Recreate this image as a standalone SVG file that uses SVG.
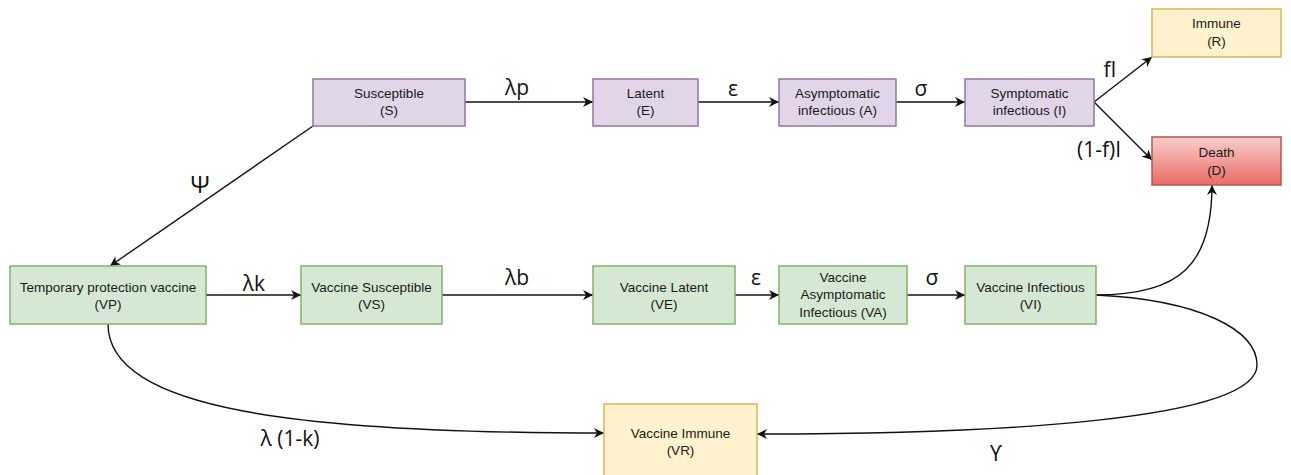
<svg xmlns="http://www.w3.org/2000/svg" width="1291" height="475" viewBox="0 0 1291 475">
<style>
  .box { stroke-width: 1.5; }
  .p { fill: #e1d5e7; stroke: #9673a6; }
  .g { fill: #d5e8d4; stroke: #82b366; }
  .y { fill: #fff2cc; stroke: #d6b656; }
  .r { fill: url(#redgrad); stroke: #b85450; }
  .t { font-family: "Liberation Sans", Arial, sans-serif; font-size: 13.5px; fill: #1a1a1a; text-anchor: middle; }
  .lbl { font-family: "Open Sans", "Noto Sans", sans-serif; font-size: 21px; fill: #111; text-anchor: middle; }
  .c { fill: none; stroke: #111; stroke-width: 1.4; marker-end: url(#arr); }
</style>
<defs>
  <linearGradient id="redgrad" x1="0" y1="0" x2="0" y2="1">
    <stop offset="0" stop-color="#f8cecc"/>
    <stop offset="1" stop-color="#ea6b66"/>
  </linearGradient>
  <marker id="arr" markerWidth="12" markerHeight="10" refX="10" refY="5" orient="auto" markerUnits="userSpaceOnUse">
    <path d="M0,0 L10,5 L0,10 L3,5 Z" fill="#111"/>
  </marker>
</defs>
<rect width="1291" height="475" fill="#ffffff"/>

<g id="connectors">
  <line class="c" x1="465" y1="102" x2="593" y2="102"/>
  <line class="c" x1="698" y1="102" x2="779" y2="102"/>
  <line class="c" x1="896" y1="102" x2="965" y2="102"/>
  <line class="c" x1="1094" y1="102" x2="1152" y2="57"/>
  <line class="c" x1="1094" y1="102" x2="1152" y2="160"/>
  <line class="c" x1="313" y1="126" x2="110" y2="266"/>
  <line class="c" x1="206" y1="295" x2="301" y2="295"/>
  <line class="c" x1="442" y1="295" x2="593" y2="295"/>
  <line class="c" x1="735" y1="295" x2="779" y2="295"/>
  <line class="c" x1="907" y1="295" x2="965" y2="295"/>
  <path class="c" d="M1096,295 C1180,295 1212,265 1212,185"/>
  <path class="c" d="M1096,295 C1200,300 1257,330 1257,365 C1257,420 1000,434 757,434"/>
  <path class="c" d="M108,324 C108,410 300,433 604,433"/>
  <text class="lbl" x="517" y="95">λp</text>
  <text class="lbl" x="733" y="96">ε</text>
  <text class="lbl" x="921" y="96">σ</text>
  <text class="lbl" x="1110" y="77">fI</text>
  <text class="lbl" x="1099" y="157">(1-f)I</text>
  <text class="lbl" x="200" y="193" style="font-size:24px">Ψ</text>
  <text class="lbl" x="254" y="291">λk</text>
  <text class="lbl" x="517" y="285">λb</text>
  <text class="lbl" x="756" y="285">ε</text>
  <text class="lbl" x="932" y="285">σ</text>
  <text class="lbl" x="290" y="446">λ (1-k)</text>
  <text class="lbl" x="996" y="461">ϒ</text>
</g>

<g id="S"><rect class="box p" x="313" y="79" width="152" height="47"/>
  <text class="t" x="389" y="98">Susceptible</text><text class="t" x="389" y="115">(S)</text></g>
<g id="E"><rect class="box p" x="593" y="79" width="105" height="47"/>
  <text class="t" x="645.5" y="98">Latent</text><text class="t" x="645.5" y="115">(E)</text></g>
<g id="A"><rect class="box p" x="779" y="79" width="117" height="47"/>
  <text class="t" x="837.5" y="98">Asymptomatic</text><text class="t" x="837.5" y="115">infectious (A)</text></g>
<g id="I"><rect class="box p" x="965" y="79" width="129" height="47"/>
  <text class="t" x="1029.5" y="98">Symptomatic</text><text class="t" x="1029.5" y="115">infectious (I)</text></g>
<g id="R"><rect class="box y" x="1152" y="9" width="129" height="48"/>
  <text class="t" x="1216.5" y="28">Immune</text><text class="t" x="1216.5" y="46">(R)</text></g>
<g id="D"><rect class="box r" x="1152" y="137" width="129" height="48"/>
  <text class="t" x="1216.5" y="157">Death</text><text class="t" x="1216.5" y="175">(D)</text></g>

<g id="VP"><rect class="box g" x="10" y="266" width="196" height="58"/>
  <text class="t" x="108" y="292">Temporary protection vaccine</text><text class="t" x="108" y="309">(VP)</text></g>
<g id="VS"><rect class="box g" x="301" y="266" width="141" height="58"/>
  <text class="t" x="371.5" y="292">Vaccine Susceptible</text><text class="t" x="371.5" y="309">(VS)</text></g>
<g id="VE"><rect class="box g" x="593" y="266" width="142" height="58"/>
  <text class="t" x="664" y="292">Vaccine Latent</text><text class="t" x="664" y="309">(VE)</text></g>
<g id="VA"><rect class="box g" x="779" y="266" width="128" height="58"/>
  <text class="t" x="843" y="282">Vaccine</text><text class="t" x="843" y="299">Asymptomatic</text><text class="t" x="843" y="317">Infectious (VA)</text></g>
<g id="VI"><rect class="box g" x="965" y="266" width="131" height="58"/>
  <text class="t" x="1030.5" y="292">Vaccine Infectious</text><text class="t" x="1030.5" y="309">(VI)</text></g>
<g id="VR"><rect class="box y" x="604" y="404" width="153" height="76"/>
  <text class="t" x="680.5" y="438">Vaccine Immune</text><text class="t" x="680.5" y="455">(VR)</text></g>
</svg>
